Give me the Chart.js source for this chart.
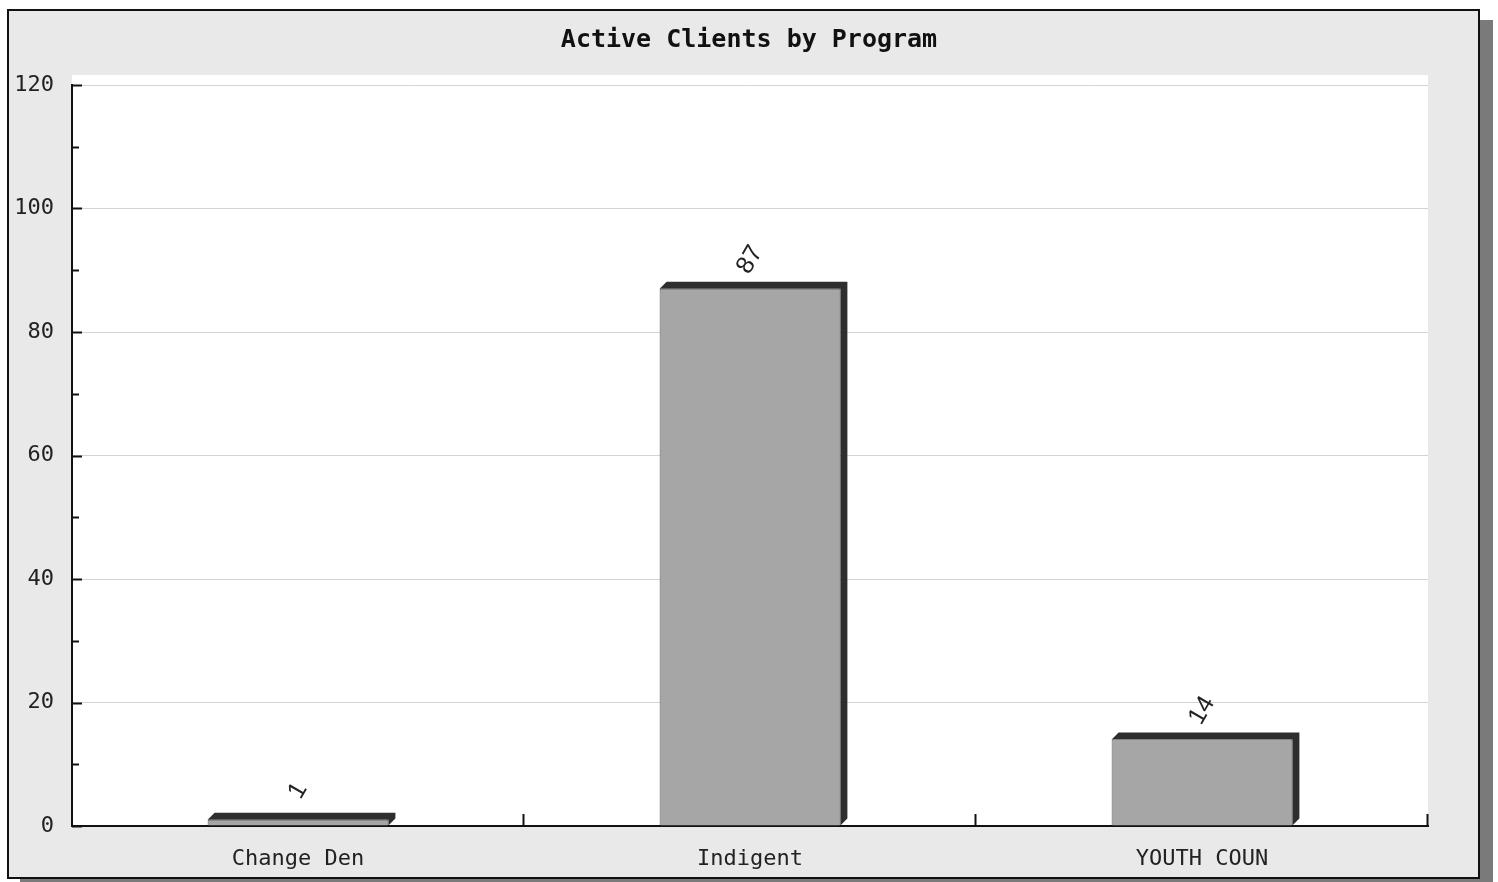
<!DOCTYPE html>
<html>
<head>
<meta charset="utf-8">
<script src="https://cdn.jsdelivr.net/npm/chart.js@4.4.0/dist/chart.umd.min.js"></script>
<style>
  html, body { margin: 0; padding: 0; background: #ffffff; }
  #wrap { width: 1498px; height: 882px; }
</style>
</head>
<body>
<div id="wrap"><canvas id="clientsChart" width="1498" height="882"></canvas></div>
<script>
// data
const programs = ['Change Den', 'Indigent', 'YOUTH COUN'];
const activeClients = [1, 87, 14];
const yTicks = [0, 20, 40, 60, 80, 100, 120];

const monoFont = '"DejaVu Sans Mono", "Liberation Mono", monospace';

// grey frame with dark drop shadow, white plot area behind the bars
const framePlugin = {
    id: 'frame',
    beforeDraw(chart) {
        const ctx = chart.ctx;
        const a = chart.chartArea;
        ctx.save();
        ctx.fillStyle = '#ffffff';
        ctx.fillRect(0, 0, chart.width, chart.height);
        ctx.fillStyle = '#7a7a7a';
        ctx.fillRect(20, 20, 1473, 862);
        ctx.fillStyle = '#e9e9e9';
        ctx.fillRect(8, 10, 1471, 868);
        ctx.strokeStyle = '#111';
        ctx.lineWidth = 2;
        ctx.strokeRect(8, 10, 1471, 868);
        ctx.fillStyle = '#ffffff';
        ctx.fillRect(a.left, a.top - 10, a.right - a.left, a.bottom - a.top + 10);
        ctx.restore();
    },
    afterDraw(chart) {
        const ctx = chart.ctx;
        const a = chart.chartArea;
        const y = chart.scales.y;
        ctx.save();
        ctx.strokeStyle = '#111';
        ctx.lineWidth = 2;
        // inward ticks on the value axis, every 10
        for (let v = 0; v <= 120; v += 10) {
            const py = Math.round(y.getPixelForValue(v)) + 0.5;
            ctx.beginPath();
            ctx.moveTo(a.left, py);
            ctx.lineTo(a.left + (v % 20 === 0 ? 10 : 7), py);
            ctx.stroke();
        }
        // category separators on the bottom axis
        const n = programs.length;
        for (let i = 1; i <= n; i++) {
            const px = Math.round(a.left + i * (a.right - a.left) / n) - 0.5;
            ctx.beginPath();
            ctx.moveTo(px, a.bottom);
            ctx.lineTo(px, a.bottom - 12);
            ctx.stroke();
        }
        ctx.restore();
    }
};

// fake 3D edges (dark top and right face) plus slanted value labels
const depth = 7;
const bar3dPlugin = {
    id: 'bar3d',
    afterDatasetsDraw(chart) {
        const ctx = chart.ctx;
        const meta = chart.getDatasetMeta(0);
        ctx.save();
        meta.data.forEach((bar, i) => {
            const half = bar.width / 2;
            const l = bar.x - half, r = bar.x + half;
            const t = bar.y, b = bar.base;
            ctx.fillStyle = '#2e2e2e';
            ctx.beginPath();
            ctx.moveTo(l, t);
            ctx.lineTo(l + depth, t - depth);
            ctx.lineTo(r + depth, t - depth);
            ctx.lineTo(r + depth, b - depth);
            ctx.lineTo(r, b);
            ctx.lineTo(r, t);
            ctx.closePath();
            ctx.fill();

            ctx.translate(bar.x, t - depth - 22);
            ctx.rotate(-Math.PI / 3);
            ctx.fillStyle = '#222';
            ctx.font = '25px "Liberation Sans", Arial, sans-serif';
            ctx.textAlign = 'center';
            ctx.textBaseline = 'middle';
            ctx.fillText(String(activeClients[i]), 0, 0);
            ctx.setTransform(1, 0, 0, 1, 0, 0);
        });
        ctx.restore();
    }
};

const ctx = document.getElementById('clientsChart').getContext('2d');
new Chart(ctx, {
    type: 'bar',
    data: {
        labels: programs,
        datasets: [{
            label: 'Active Clients',
            data: activeClients,
            backgroundColor: '#a6a6a6',
            borderColor: '#555',
            borderWidth: 1,
            barPercentage: 0.8,
            categoryPercentage: 0.5
        }]
    },
    plugins: [framePlugin, bar3dPlugin],
    options: {
        responsive: false,
        animation: false,
        layout: { padding: 0 },
        scales: {
            y: {
                min: 0,
                max: 120,
                afterBuildTicks(scale) { scale.ticks = yTicks.map(v => ({ value: v })); },
                afterFit(scale) { scale.width = 72; },
                border: { display: true, color: '#111', width: 2 },
                grid: { color: '#d4d4d4', lineWidth: 1, drawTicks: false },
                ticks: {
                    padding: 18,
                    color: '#222',
                    font: { family: monoFont, size: 22 }
                }
            },
            // empty right-hand axis, only keeps the grey margin on the right
            yRight: {
                position: 'right',
                min: 0,
                max: 120,
                afterFit(scale) { scale.width = 70; },
                border: { display: false },
                grid: { display: false, drawTicks: false },
                ticks: { display: false }
            },
            x: {
                afterFit(scale) { scale.height = 56; },
                border: { display: true, color: '#111', width: 2 },
                grid: { display: false, drawTicks: false },
                ticks: {
                    padding: 20,
                    color: '#222',
                    font: { family: monoFont, size: 22 }
                }
            }
        },
        plugins: {
            legend: { display: false },
            tooltip: { enabled: false },
            title: {
                display: true,
                text: 'Active Clients by Program',
                color: '#111',
                font: { family: monoFont, size: 25, weight: 'bold' },
                padding: { top: 25, bottom: 30 }
            }
        }
    }
});
</script>
</body>
</html>
